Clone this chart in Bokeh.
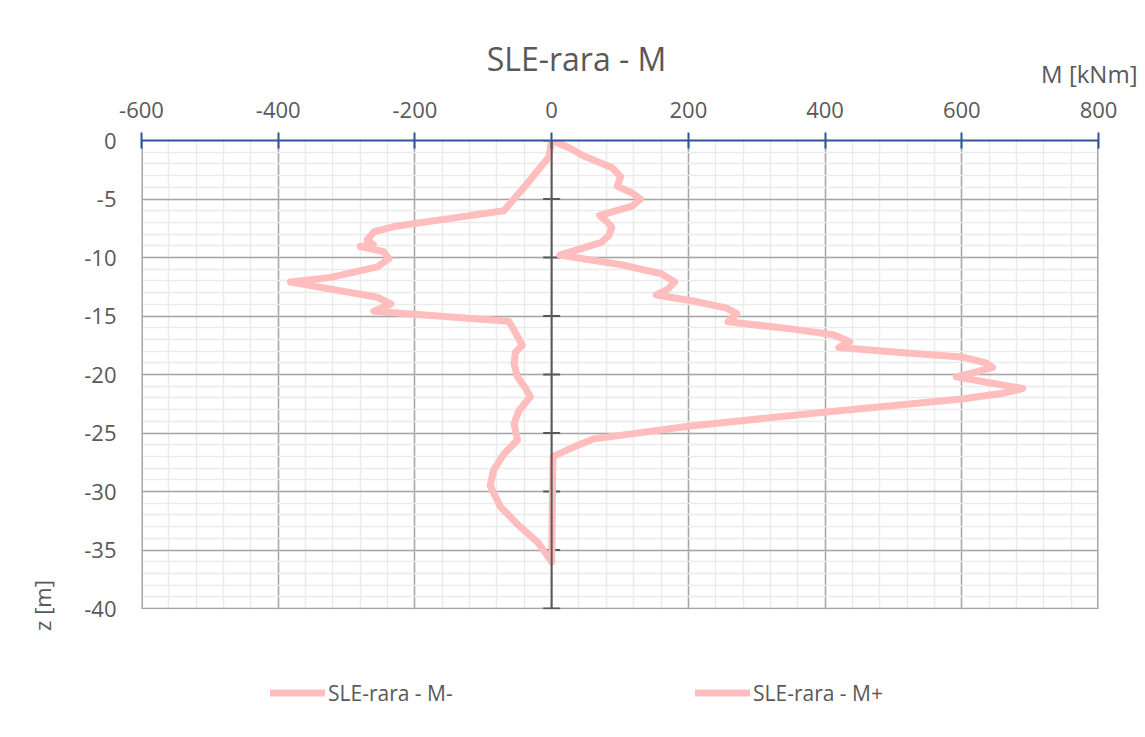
import math
from bokeh.plotting import figure
from bokeh.models import (Range1d, SingleIntervalTicker, Span, Label, Legend, LegendItem,
                          BoxAnnotation)
from bokeh.embed import file_html
from bokeh.resources import INLINE

# ---- data ----
z_minus = [0, -1.4, -3.7, -6.0, -6.7, -7.3, -7.8, -8.5, -8.9, -9.06, -9.5, -10.1, -10.8,
           -11.7, -12.1, -12.7, -13.4, -13.96, -14.6, -15.44, -16.2, -17.5, -18.1, -19.1,
           -20.2, -21.2, -21.9, -23.1, -24.2, -25.6, -26.8, -28.2, -29.5, -31.3, -32.8,
           -34.3, -36.0]
m_minus = [0, -4, -36, -70, -153, -226, -260, -270, -261, -280, -246, -238, -255,
           -323, -382, -323, -255, -235, -260, -63, -55, -43, -53, -55,
           -50, -38, -31, -48, -55, -50, -70, -85, -90, -75, -50,
           -21, 0]

z_plus = [0, -0.6, -1.3, -2.3, -3.1, -3.9, -4.5, -5.0, -5.6, -6.4, -6.9, -7.4, -8.1, -8.7,
          -9.8, -10.6, -11.4, -12.1, -12.7, -13.2, -13.7, -14.3, -14.8, -15.5, -16.1,
          -16.6, -17.2, -17.7, -18.1, -18.5, -19.0, -19.4, -19.8, -20.2, -20.7, -21.2,
          -21.6, -22.1, -23.2, -24.4, -25.5, -26.1, -27.0, -36.0]
m_plus = [0, 25, 46, 88, 101, 96, 118, 130, 118, 70, 80, 88, 84, 73,
          12, 100, 161, 180, 170, 153, 205, 255, 271, 258, 350,
          412, 436, 420, 506, 600, 635, 645, 620, 592, 640, 689,
          660, 600, 402, 203, 62, 36, 2, 0]

series_names = ["SLE-rara - M-", "SLE-rara - M+"]
x_ticks = [-600, -400, -200, 0, 200, 400, 600, 800]
y_ticks = [0, -5, -10, -15, -20, -25, -30, -35, -40]

title_text = "SLE-rara - M"
x_title = "M [kNm]"
y_title = "z [m]"

# ---- styles ----
FONT = "Open Sans"
TXT = "#595959"
LINE_COL = "#FFBDBD"
MAJOR = "#a6a6a6"
MINOR = "#ebebeb"

W, H = 1145, 737
TOP, LEFT, RIGHT = 140, 141, 47
PLOT_H = 468                       # pixel height of the gridded area (0 .. -40)
y_top, y_bot = y_ticks[0], y_ticks[-1]
# the frame also holds the legend area below the grid
y_ext = y_bot - (H - TOP - PLOT_H) / PLOT_H * (y_top - y_bot)

p = figure(width=W, height=H,
           x_range=Range1d(x_ticks[0], x_ticks[-1]),
           y_range=Range1d(y_ext, y_top),
           x_axis_location="above",
           output_backend="svg", toolbar_location=None,
           min_border_left=LEFT, min_border_right=RIGHT,
           min_border_top=TOP, min_border_bottom=0,
           background_fill_color="white", border_fill_color="white",
           styles={"outline": "1px solid #d9d9d9", "outline-offset": "-4px"})

p.xaxis.ticker = SingleIntervalTicker(interval=200, num_minor_ticks=5)
p.yaxis.ticker = SingleIntervalTicker(interval=5, num_minor_ticks=5)
p.xaxis.major_label_overrides = {v: str(v) for v in x_ticks}
p.yaxis.major_label_overrides = {v: str(v) for v in y_ticks}
p.yaxis.bounds = (y_bot, y_top)

# top axis
xa = p.xaxis[0]
xa.axis_line_color = "#2F5597"
xa.axis_line_width = 2
xa.major_tick_line_color = "#2F5597"
xa.major_tick_line_width = 2
xa.major_tick_in = 8
xa.major_tick_out = 8
xa.minor_tick_line_color = None
xa.major_label_text_font = FONT
xa.major_label_text_font_size = "22px"
xa.major_label_text_color = TXT
xa.major_label_standoff = 15

# left axis (labels only)
ya = p.yaxis[0]
ya.axis_line_color = None
ya.major_tick_line_color = None
ya.minor_tick_line_color = None
ya.major_tick_out = 0
ya.major_tick_in = 0
ya.major_label_text_font = FONT
ya.major_label_text_font_size = "22px"
ya.major_label_text_color = TXT
ya.major_label_standoff = 21

for g in (p.xgrid[0], p.ygrid[0]):
    g.grid_line_color = MAJOR
    g.grid_line_width = 1.5
    g.minor_grid_line_color = MINOR
    g.minor_grid_line_width = 1.5
p.ygrid[0].bounds = (y_bot, y_top)

p.outline_line_color = None

# left / right border lines of the gridded area
p.segment(x0=[x_ticks[0], x_ticks[-1]], y0=[y_bot, y_bot],
          x1=[x_ticks[0], x_ticks[-1]], y1=[y_top, y_top],
          line_color=MAJOR, line_width=3)

# vertical axis line at M = 0 with tick marks
p.add_layout(Span(location=0, dimension="height", line_color="#595959", line_width=2))
p.scatter(x=[0] * len(y_ticks), y=y_ticks, marker="dash", size=17,
          line_color="#595959", line_width=2)

r1 = p.line(m_minus, z_minus, line_color=LINE_COL, line_width=7,
            line_join="round", line_cap="round")
r2 = p.line(m_plus, z_plus, line_color=LINE_COL, line_width=7,
            line_join="round", line_cap="round")

# blank out the legend area below the grid
p.add_layout(BoxAnnotation(top=y_bot - 0.07, fill_color="white", fill_alpha=1,
                           line_color=None))

# texts (placed in side panels so they are not clipped; canvas coordinates)
p.add_layout(Label(x=576, y=58, x_units="canvas", y_units="canvas", text=title_text,
                   text_font=FONT, text_font_size="32px", text_color=TXT,
                   text_align="center", text_baseline="alphabetic"), "above")
p.add_layout(Label(x=1137, y=73, x_units="canvas", y_units="canvas", text=x_title,
                   text_font=FONT, text_font_size="24px", text_color=TXT,
                   text_align="right", text_baseline="alphabetic"), "above")
p.add_layout(Label(x=41, y=605, x_units="canvas", y_units="canvas", text=y_title,
                   angle=math.pi / 2,
                   text_font=FONT, text_font_size="22px", text_color=TXT,
                   text_align="center", text_baseline="middle"), "left")

# legend below the grid (inside the extended frame)
lg = Legend(items=[LegendItem(label=series_names[0], renderers=[r1]),
                   LegendItem(label=series_names[1], renderers=[r2])],
            location=(129, 30), orientation="horizontal", padding=0, margin=0,
            spacing=242, label_width=125,
            border_line_color=None, background_fill_alpha=0,
            glyph_width=55, glyph_height=29, label_standoff=3,
            label_text_font=FONT, label_text_font_size="21px",
            label_text_color=TXT)
p.add_layout(lg)

open("out.html", "w").write(file_html(p, INLINE))
